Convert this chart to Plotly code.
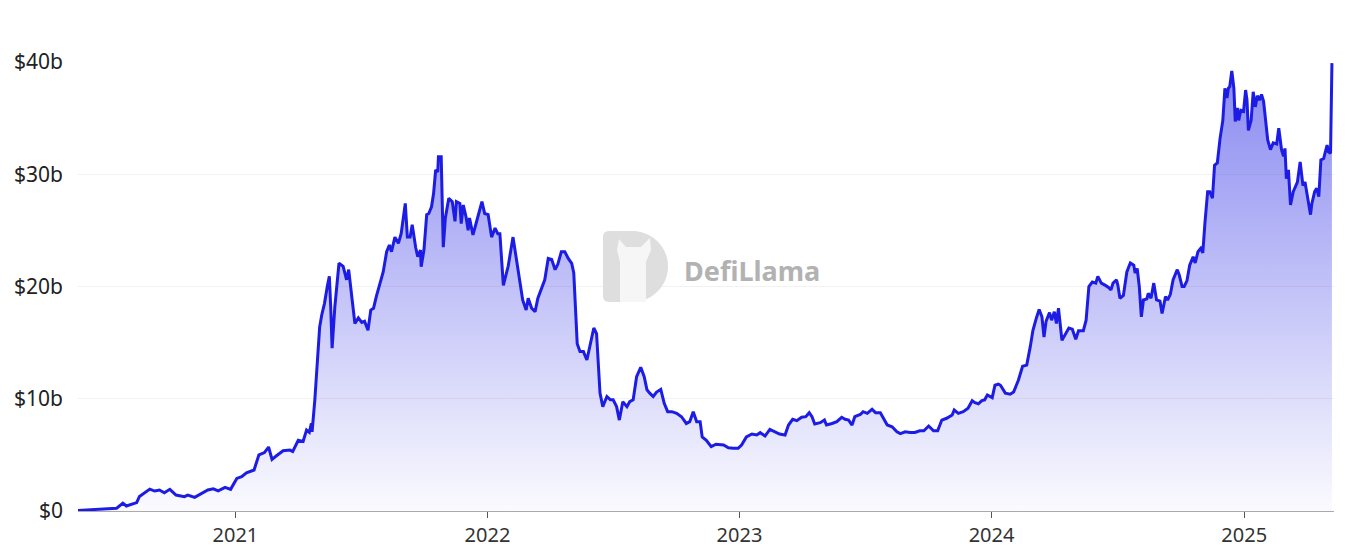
import plotly.graph_objects as go

# ---- data (TVL, billions USD) ----
dates = [
    "2020-05-18", "2020-07-13", "2020-07-22", "2020-07-27", "2020-08-11", "2020-08-15", "2020-08-30",
    "2020-09-06", "2020-09-13", "2020-09-20", "2020-09-28", "2020-10-07", "2020-10-19", "2020-10-24",
    "2020-11-03", "2020-11-13", "2020-11-22", "2020-11-30", "2020-12-07", "2020-12-17", "2020-12-25",
    "2021-01-03", "2021-01-10", "2021-01-17", "2021-01-28", "2021-02-04", "2021-02-12", "2021-02-18",
    "2021-02-23", "2021-03-01", "2021-03-11", "2021-03-21", "2021-03-25", "2021-04-02", "2021-04-09",
    "2021-04-14", "2021-04-18", "2021-04-21", "2021-04-22", "2021-04-26", "2021-04-28", "2021-04-30",
    "2021-05-03", "2021-05-06", "2021-05-10", "2021-05-14", "2021-05-17", "2021-05-19", "2021-05-21",
    "2021-05-25", "2021-05-31", "2021-06-06", "2021-06-11", "2021-06-14", "2021-06-18", "2021-06-23",
    "2021-06-28", "2021-07-03", "2021-07-07", "2021-07-12", "2021-07-16", "2021-07-20", "2021-07-24",
    "2021-07-29", "2021-08-03", "2021-08-08", "2021-08-12", "2021-08-15", "2021-08-20", "2021-08-25",
    "2021-08-29", "2021-09-04", "2021-09-07", "2021-09-11", "2021-09-14", "2021-09-19", "2021-09-22",
    "2021-09-26", "2021-09-27", "2021-10-01", "2021-10-05", "2021-10-08", "2021-10-12", "2021-10-15",
    "2021-10-18", "2021-10-21", "2021-10-22", "2021-10-26", "2021-10-27", "2021-10-29", "2021-11-01",
    "2021-11-06", "2021-11-11", "2021-11-15", "2021-11-17", "2021-11-22", "2021-11-24", "2021-11-27",
    "2021-12-01", "2021-12-04", "2021-12-06", "2021-12-11", "2021-12-15", "2021-12-20", "2021-12-24",
    "2021-12-28", "2022-01-02", "2022-01-07", "2022-01-12", "2022-01-16", "2022-01-19", "2022-01-24",
    "2022-01-31", "2022-02-07", "2022-02-12", "2022-02-17", "2022-02-21", "2022-02-26", "2022-03-01",
    "2022-03-06", "2022-03-11", "2022-03-15", "2022-03-20", "2022-03-25", "2022-03-30", "2022-04-04",
    "2022-04-09", "2022-04-13", "2022-04-18", "2022-04-23", "2022-04-28", "2022-05-03", "2022-05-06",
    "2022-05-11", "2022-05-15", "2022-05-20", "2022-05-25", "2022-05-29", "2022-06-04", "2022-06-08",
    "2022-06-13", "2022-06-17", "2022-06-23", "2022-06-28", "2022-07-02", "2022-07-07", "2022-07-11",
    "2022-07-16", "2022-07-22", "2022-07-26", "2022-07-31", "2022-08-05", "2022-08-11", "2022-08-16",
    "2022-08-20", "2022-08-24", "2022-08-29", "2022-09-03", "2022-09-09", "2022-09-14", "2022-09-19",
    "2022-09-25", "2022-10-02", "2022-10-09", "2022-10-16", "2022-10-21", "2022-10-26", "2022-10-31",
    "2022-11-05", "2022-11-08", "2022-11-14", "2022-11-21", "2022-11-28", "2022-12-09", "2022-12-16",
    "2022-12-23", "2022-12-30", "2023-01-04", "2023-01-11", "2023-01-19", "2023-01-26", "2023-01-31",
    "2023-02-07", "2023-02-14", "2023-02-21", "2023-02-28", "2023-03-08", "2023-03-13", "2023-03-19",
    "2023-03-25", "2023-04-01", "2023-04-07", "2023-04-12", "2023-04-16", "2023-04-20", "2023-04-28",
    "2023-05-04", "2023-05-07", "2023-05-15", "2023-05-22", "2023-05-29", "2023-06-03", "2023-06-08",
    "2023-06-13", "2023-06-17", "2023-06-25", "2023-06-29", "2023-07-05", "2023-07-12", "2023-07-17",
    "2023-07-24", "2023-07-29", "2023-08-03", "2023-08-10", "2023-08-17", "2023-08-22", "2023-08-29",
    "2023-09-05", "2023-09-12", "2023-09-19", "2023-09-25", "2023-10-02", "2023-10-09", "2023-10-15",
    "2023-10-21", "2023-10-28", "2023-11-05", "2023-11-08", "2023-11-14", "2023-11-21", "2023-11-28",
    "2023-12-04", "2023-12-08", "2023-12-13", "2023-12-18", "2023-12-22", "2023-12-26", "2024-01-02",
    "2024-01-06", "2024-01-11", "2024-01-14", "2024-01-21", "2024-01-28", "2024-02-02", "2024-02-09",
    "2024-02-15", "2024-02-21", "2024-02-26", "2024-03-01", "2024-03-06", "2024-03-10", "2024-03-14",
    "2024-03-17", "2024-03-20", "2024-03-25", "2024-03-28", "2024-04-01", "2024-04-04", "2024-04-07",
    "2024-04-12", "2024-04-17", "2024-04-22", "2024-04-27", "2024-05-02", "2024-05-06", "2024-05-13",
    "2024-05-17", "2024-05-21", "2024-05-26", "2024-05-31", "2024-06-03", "2024-06-08", "2024-06-14",
    "2024-06-19", "2024-06-22", "2024-06-25", "2024-06-30", "2024-07-02", "2024-07-05", "2024-07-10",
    "2024-07-15", "2024-07-20", "2024-07-25", "2024-07-27", "2024-07-30", "2024-08-02", "2024-08-05",
    "2024-08-08", "2024-08-13", "2024-08-15", "2024-08-19", "2024-08-23", "2024-08-27", "2024-09-01",
    "2024-09-04", "2024-09-09", "2024-09-12", "2024-09-16", "2024-09-20", "2024-09-26", "2024-09-29",
    "2024-10-03", "2024-10-06", "2024-10-10", "2024-10-14", "2024-10-19", "2024-10-22", "2024-10-26",
    "2024-10-30", "2024-11-02", "2024-11-05", "2024-11-09", "2024-11-12", "2024-11-16", "2024-11-19",
    "2024-11-23", "2024-11-27", "2024-12-01", "2024-12-04", "2024-12-07", "2024-12-09", "2024-12-11",
    "2024-12-14", "2024-12-17", "2024-12-19", "2024-12-22", "2024-12-24", "2024-12-27", "2024-12-31",
    "2025-01-03", "2025-01-05", "2025-01-07", "2025-01-11", "2025-01-14", "2025-01-17", "2025-01-20",
    "2025-01-23", "2025-01-26", "2025-01-29", "2025-02-01", "2025-02-04", "2025-02-08", "2025-02-12",
    "2025-02-17", "2025-02-20", "2025-02-24", "2025-02-27", "2025-03-01", "2025-03-03", "2025-03-06",
    "2025-03-09", "2025-03-13", "2025-03-16", "2025-03-19", "2025-03-23", "2025-03-27", "2025-03-30",
    "2025-04-03", "2025-04-07", "2025-04-09", "2025-04-13", "2025-04-16", "2025-04-19", "2025-04-22",
    "2025-04-26", "2025-05-01", "2025-05-03", "2025-05-06", "2025-05-08",
]

tvl_b = [
    0.05, 0.25, 0.70, 0.45, 0.75, 1.30, 1.95,
    1.78, 1.87, 1.63, 1.93, 1.42, 1.28, 1.42,
    1.22, 1.57, 1.87, 1.98, 1.80, 2.10, 1.93,
    2.90, 3.05, 3.40, 3.65, 5.00, 5.20, 5.70,
    4.60, 4.90, 5.37, 5.43, 5.30, 6.30, 6.20,
    7.20, 7.00, 7.80, 7.06, 9.90, 11.70, 13.75,
    16.40, 17.46, 18.50, 20.00, 20.90, 18.20, 14.50,
    18.20, 22.07, 21.80, 20.60, 21.50, 19.40, 16.70,
    17.20, 16.80, 16.90, 16.10, 17.90, 18.06, 19.10,
    20.30, 21.30, 23.10, 23.70, 23.10, 24.40, 23.85,
    24.70, 27.40, 24.40, 24.40, 25.50, 23.50, 22.65,
    23.25, 21.76, 23.25, 26.40, 26.50, 27.10, 28.30,
    30.40, 30.20, 31.56, 31.56, 29.50, 23.50, 26.10,
    27.85, 27.56, 25.80, 27.56, 27.40, 25.60, 27.26,
    26.20, 25.00, 26.10, 24.60, 25.50, 26.80, 27.56,
    26.50, 26.40, 24.40, 25.20, 24.70, 24.70, 20.10,
    21.80, 24.40, 22.50, 20.30, 18.80, 17.90, 18.95,
    18.06, 17.76, 18.95, 19.80, 20.60, 22.50, 22.40,
    21.50, 22.00, 23.10, 23.10, 22.50, 22.07, 21.20,
    14.90, 14.20, 14.20, 13.45, 14.60, 16.30, 15.80,
    10.50, 9.30, 10.20, 9.90, 9.90, 9.30, 8.10,
    9.74, 9.30, 9.74, 9.90, 11.96, 12.80, 11.96,
    10.80, 10.50, 10.20, 10.60, 10.84, 9.60, 8.85,
    8.85, 8.70, 8.40, 7.80, 7.96, 8.85, 7.96,
    7.96, 6.60, 6.30, 5.73, 5.95, 5.88, 5.64,
    5.58, 5.58, 5.88, 6.60, 6.86, 6.77, 6.98,
    6.68, 7.27, 7.06, 6.86, 6.77, 7.66, 8.17,
    8.05, 8.35, 8.40, 8.76, 8.40, 7.75, 7.87,
    8.10, 7.66, 7.80, 7.96, 8.35, 8.17, 8.10,
    7.66, 8.40, 8.60, 8.85, 8.70, 9.06, 8.76,
    8.76, 8.26, 7.66, 7.50, 7.06, 6.90, 7.06,
    7.00, 7.00, 7.15, 7.15, 7.57, 7.15, 7.15,
    8.10, 8.26, 8.55, 9.00, 8.70, 8.85, 9.15,
    9.83, 9.65, 9.55, 9.83, 9.90, 10.33, 10.10,
    11.20, 11.30, 11.20, 10.50, 10.40, 10.60, 11.67,
    12.90, 13.00, 14.60, 16.10, 17.20, 17.96, 17.30,
    15.50, 16.90, 17.67, 17.00, 17.76, 16.70, 18.06,
    15.20, 15.70, 16.30, 16.20, 15.30, 16.06, 16.06,
    17.00, 20.00, 20.40, 20.30, 20.90, 20.30, 20.10,
    19.90, 19.70, 20.30, 20.60, 20.10, 18.95, 19.20,
    21.30, 22.10, 21.90, 21.20, 21.60, 20.00, 17.30,
    18.80, 18.90, 19.40, 18.95, 20.30, 18.80, 18.70,
    17.60, 19.10, 18.80, 19.30, 20.60, 21.50, 21.00,
    20.00, 20.00, 20.50, 21.90, 22.65, 22.10, 23.10,
    23.40, 23.00, 25.60, 28.45, 28.45, 27.86, 30.80,
    31.00, 33.20, 34.80, 37.66, 36.80, 37.66, 37.80,
    39.20, 37.66, 34.70, 35.90, 34.80, 35.70, 35.60,
    37.50, 36.60, 33.90, 34.80, 37.35, 36.00, 37.00,
    36.60, 37.10, 36.50, 34.40, 33.05, 32.20, 32.80,
    32.70, 34.10, 32.20, 31.60, 32.30, 29.60, 30.40,
    27.26, 28.45, 28.90, 29.30, 31.10, 29.00, 29.30,
    27.86, 26.40, 27.40, 28.45, 28.75, 28.00, 31.27,
    31.40, 32.60, 32.00, 31.87, 39.90,
]

y_tick_vals = [0, 10, 20, 30, 40]
y_tick_text = ["$0", "$10b", "$20b", "$30b", "$40b"]
x_range = ["2020-05-18", "2025-05-11"]

LINE = "rgb(28,28,229)"
FONT = "Noto Sans, Open Sans, sans-serif"

# plot-area geometry (pixels) used only for the watermark helper
W, H = 1345, 553
ML, MR, MT, MB = 78, 11, 62, 42
PW, PH = W - ML - MR, H - MT - MB


def px(x, y):
    return (x - ML) / PW, (H - MB - y) / PH


def path(cmds):
    out = []
    for c in cmds:
        if isinstance(c, str):
            out.append(c)
        else:
            X, Y = px(*c)
            out.append(f"{X:.5f},{Y:.5f}")
    return " ".join(out)


fig = go.Figure()
fig.add_trace(go.Scatter(
    x=dates, y=tvl_b, mode="lines",
    line=dict(color=LINE, width=3),
    fill="tozeroy",
    fillgradient=dict(
        type="vertical",
        colorscale=[[0, "rgba(28,28,229,0.02)"], [1, "rgba(28,28,229,0.52)"]],
    ),
    hoverinfo="skip", showlegend=False, cliponaxis=False,
))

# DefiLlama watermark (decoration)
d_shape = path([
    "M", (609, 231), "L", (632, 231), "C", (652, 231), (668, 247), (668, 266.5),
    "C", (668, 286), (652, 302), (632, 302), "L", (609, 302),
    "Q", (603, 302), (603, 296), "L", (603, 237), "Q", (603, 231), (609, 231), "Z",
])
llama = path([
    "M", (620, 302), "L", (620, 262), "L", (617, 250), "L", (619, 239), "L", (626, 247),
    "L", (641, 247), "L", (650, 238), "L", (651, 250), "L", (646, 262),
    "L", (646, 302), "Z",
])
fig.add_shape(type="path", path=d_shape, xref="paper", yref="paper",
              fillcolor="rgb(222,222,222)", line=dict(width=0), layer="above")
fig.add_shape(type="path", path=llama, xref="paper", yref="paper",
              fillcolor="rgb(246,246,246)", line=dict(width=0), layer="above")
tx, ty = px(682, 270)
fig.add_annotation(x=tx, y=ty, xref="paper", yref="paper", text="<b>DefiLlama</b>",
                   showarrow=False, xanchor="left", yanchor="middle",
                   font=dict(family=FONT, size=27, color="rgb(178,178,178)"))

fig.update_layout(
    width=W, height=H,
    margin=dict(l=ML, r=MR, t=MT, b=MB, autoexpand=False),
    paper_bgcolor="white", plot_bgcolor="white",
    font=dict(family=FONT, size=20, color="#333"),
    showlegend=False,
)
fig.update_xaxes(
    type="date", range=x_range, automargin=False,
    tick0="2021-01-01", dtick="M12", tickformat="%Y",
    showgrid=False, zeroline=False,
    showline=True, linecolor="#aaaaaa", linewidth=1,
    ticks="outside", ticklen=6, tickcolor="#555", tickwidth=1,
    tickfont=dict(family=FONT, size=20, color="#333"),
)
fig.update_yaxes(
    range=[0, 40], tickvals=y_tick_vals, ticktext=y_tick_text, automargin=False,
    showgrid=True, gridcolor="#f2f2f2", gridwidth=1, zeroline=False,
    showline=False, ticks="", ticklabelstandoff=14,
    tickfont=dict(family=FONT, size=21, color="#222"),
)

fig.write_html(
    "out.html",
    config={"displayModeBar": False},
    post_script="document.body.style.margin='0';document.body.style.overflow='hidden';",
)
